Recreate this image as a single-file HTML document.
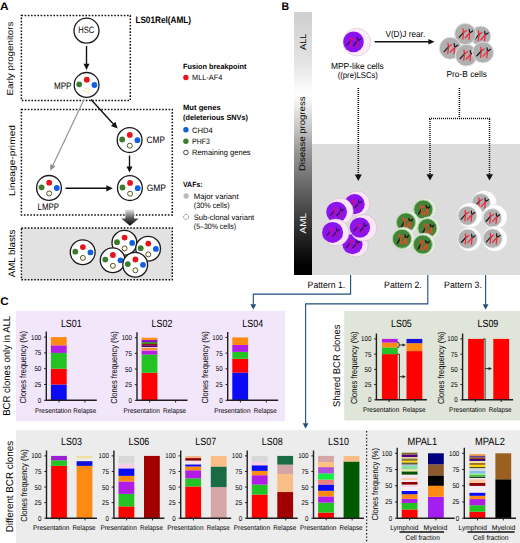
<!DOCTYPE html>
<html><head><meta charset="utf-8"><title>Figure</title>
<style>html,body{margin:0;padding:0;background:#fff;overflow:hidden}svg{display:block}text{font-family:"Liberation Sans",sans-serif;text-rendering:geometricPrecision}</style>
</head><body>
<svg width="520" height="543" viewBox="0 0 520 543">
<defs><linearGradient id="gbar" x1="0" y1="0" x2="0" y2="1"><stop offset="0" stop-color="#cecece"/><stop offset="0.183" stop-color="#e3e3e3"/><stop offset="0.315" stop-color="#ffffff"/><stop offset="0.449" stop-color="#c2c2c2"/><stop offset="0.525" stop-color="#989898"/><stop offset="0.715" stop-color="#555555"/><stop offset="0.867" stop-color="#202020"/><stop offset="0.965" stop-color="#000000"/></linearGradient><linearGradient id="garr" x1="0" y1="0" x2="0" y2="1"><stop offset="0" stop-color="#e8e8e8"/><stop offset="0.55" stop-color="#555"/><stop offset="1" stop-color="#000"/></linearGradient></defs>
<text x="0.00" y="9.60" font-size="11" font-weight="bold" textLength="8.60" lengthAdjust="spacingAndGlyphs">A</text>
<rect x="21.4" y="15.4" width="108.9" height="85.0" fill="none" stroke="#111" stroke-width="1.5" stroke-dasharray="1.6 1.6" stroke-linecap="butt"/>
<rect x="21.4" y="109.4" width="150.9" height="105.5" fill="none" stroke="#111" stroke-width="1.5" stroke-dasharray="1.6 1.6" stroke-linecap="butt"/>
<rect x="21.4" y="228.0" width="150.9" height="51.8" fill="#e2e2e2" stroke="#111" stroke-width="1.5" stroke-dasharray="1.6 1.6" stroke-linecap="butt"/>
<text x="13.05" y="58.60" font-size="8.7" text-anchor="middle" transform="rotate(-90 13.05 58.60)" textLength="74.00" lengthAdjust="spacingAndGlyphs">Early progenitors</text>
<text x="15.35" y="160.50" font-size="8.7" text-anchor="middle" transform="rotate(-90 15.35 160.50)" textLength="71.00" lengthAdjust="spacingAndGlyphs">Lineage-primed</text>
<text x="14.74" y="253.40" font-size="9.4" text-anchor="middle" transform="rotate(-90 14.74 253.40)" textLength="47.50" lengthAdjust="spacingAndGlyphs">AML blasts</text>
<circle cx="86.5" cy="30.7" r="12.5" fill="#fff" stroke="#1a1a1a" stroke-width="1.3"/>
<text x="86.30" y="33.40" font-size="9.3" text-anchor="middle" textLength="16.00" lengthAdjust="spacingAndGlyphs">HSC</text>
<line x1="86.50" y1="46.00" x2="86.50" y2="64.30" stroke="#111" stroke-width="1.4"/>
<polygon points="86.50,70.00 83.50,63.80 89.50,63.80" fill="#111"/>
<circle cx="86.6" cy="84.9" r="12.4" fill="#fff" stroke="#1a1a1a" stroke-width="1.3"/>
<circle cx="86.80" cy="79.70" r="2.9" fill="#e8141c"/>
<circle cx="79.20" cy="84.30" r="2.9" fill="#3d7a2c"/>
<circle cx="94.40" cy="85.00" r="2.9" fill="#1060e0"/>
<circle cx="86.80" cy="90.70" r="2.5" fill="#fffbe8" stroke="#e8d890" stroke-width="0.8" stroke-dasharray="1 0.8"/>
<text x="71.50" y="89.20" font-size="9.3" text-anchor="end" textLength="17.60" lengthAdjust="spacingAndGlyphs">MPP</text>
<line x1="84.00" y1="99.50" x2="52.64" y2="165.65" stroke="#8c8c8c" stroke-width="1.1"/>
<polygon points="50.20,170.80 50.33,164.00 55.39,166.40" fill="#8c8c8c"/>
<line x1="91.00" y1="99.50" x2="113.55" y2="124.17" stroke="#111" stroke-width="1.4"/>
<polygon points="117.60,128.60 110.93,125.89 115.50,121.71" fill="#111"/>
<circle cx="129.6" cy="140.1" r="12.4" fill="#fff" stroke="#1a1a1a" stroke-width="1.3"/>
<circle cx="129.80" cy="134.90" r="2.9" fill="#e8141c"/>
<circle cx="122.20" cy="139.50" r="2.9" fill="#3d7a2c"/>
<circle cx="137.40" cy="140.20" r="2.9" fill="#1060e0"/>
<circle cx="129.80" cy="145.70" r="2.5" fill="#fffce6" stroke="#4a4420" stroke-width="0.9"/>
<text x="146.60" y="143.40" font-size="9.3" textLength="18.30" lengthAdjust="spacingAndGlyphs">CMP</text>
<line x1="129.50" y1="155.50" x2="129.50" y2="166.90" stroke="#111" stroke-width="1.4"/>
<polygon points="129.50,172.60 126.50,166.40 132.50,166.40" fill="#111"/>
<circle cx="49" cy="187.9" r="12.4" fill="#fff" stroke="#1a1a1a" stroke-width="1.3"/>
<circle cx="49.20" cy="182.70" r="2.9" fill="#e8141c"/>
<circle cx="41.60" cy="187.30" r="2.9" fill="#3d7a2c"/>
<circle cx="56.80" cy="188.00" r="2.9" fill="#1060e0"/>
<circle cx="49.20" cy="193.50" r="2.5" fill="#fffce6" stroke="#4a4420" stroke-width="0.9"/>
<text x="48.30" y="210.20" font-size="9.3" text-anchor="middle" textLength="21.40" lengthAdjust="spacingAndGlyphs">LMPP</text>
<line x1="65.50" y1="188.30" x2="106.80" y2="188.30" stroke="#111" stroke-width="1.4"/>
<polygon points="112.80,188.30 106.30,191.40 106.30,185.20" fill="#111"/>
<circle cx="129.9" cy="188.1" r="12.4" fill="#fff" stroke="#1a1a1a" stroke-width="1.3"/>
<circle cx="130.10" cy="182.90" r="2.9" fill="#e8141c"/>
<circle cx="122.50" cy="187.50" r="2.9" fill="#3d7a2c"/>
<circle cx="137.70" cy="188.20" r="2.9" fill="#1060e0"/>
<circle cx="130.10" cy="193.70" r="2.5" fill="#fffce6" stroke="#4a4420" stroke-width="0.9"/>
<text x="146.70" y="191.40" font-size="9.3" textLength="19.30" lengthAdjust="spacingAndGlyphs">GMP</text>
<path d="M125.4,209.4 H134.1 V218.4 H138.8 L130,225.8 L121.2,218.4 H125.4 Z" fill="url(#garr)"/>
<circle cx="82.7" cy="252.3" r="12.4" fill="#fff" stroke="#1a1a1a" stroke-width="1.3"/>
<circle cx="82.90" cy="247.10" r="2.9" fill="#e8141c"/>
<circle cx="75.30" cy="251.70" r="2.9" fill="#3d7a2c"/>
<circle cx="90.50" cy="252.40" r="2.9" fill="#1060e0"/>
<circle cx="82.90" cy="257.90" r="2.5" fill="#fffce6" stroke="#4a4420" stroke-width="0.9"/>
<circle cx="124.4" cy="242.8" r="12.4" fill="#fff" stroke="#1a1a1a" stroke-width="1.3"/>
<circle cx="124.60" cy="237.60" r="2.9" fill="#e8141c"/>
<circle cx="117.00" cy="242.20" r="2.9" fill="#3d7a2c"/>
<circle cx="132.20" cy="242.90" r="2.9" fill="#1060e0"/>
<circle cx="124.60" cy="248.40" r="2.5" fill="#fffce6" stroke="#4a4420" stroke-width="0.9"/>
<circle cx="148.1" cy="248.8" r="12.4" fill="#fff" stroke="#1a1a1a" stroke-width="1.3"/>
<circle cx="148.30" cy="243.60" r="2.9" fill="#e8141c"/>
<circle cx="140.70" cy="248.20" r="2.9" fill="#3d7a2c"/>
<circle cx="155.90" cy="248.90" r="2.9" fill="#1060e0"/>
<circle cx="148.30" cy="254.40" r="2.5" fill="#fffce6" stroke="#4a4420" stroke-width="0.9"/>
<circle cx="112.7" cy="260.2" r="12.4" fill="#fff" stroke="#1a1a1a" stroke-width="1.3"/>
<circle cx="112.90" cy="255.00" r="2.9" fill="#e8141c"/>
<circle cx="105.30" cy="259.60" r="2.9" fill="#3d7a2c"/>
<circle cx="120.50" cy="260.30" r="2.9" fill="#1060e0"/>
<circle cx="112.90" cy="265.80" r="2.5" fill="#fffce6" stroke="#4a4420" stroke-width="0.9"/>
<circle cx="135.2" cy="264.7" r="12.4" fill="#fff" stroke="#1a1a1a" stroke-width="1.3"/>
<circle cx="135.40" cy="259.50" r="2.9" fill="#e8141c"/>
<circle cx="127.80" cy="264.10" r="2.9" fill="#3d7a2c"/>
<circle cx="143.00" cy="264.80" r="2.9" fill="#1060e0"/>
<circle cx="135.40" cy="270.30" r="2.5" fill="#fffce6" stroke="#4a4420" stroke-width="0.9"/>
<text x="135.40" y="23.40" font-size="9.3" font-weight="bold" textLength="55.60" lengthAdjust="spacingAndGlyphs">LS01Rel(AML)</text>
<text x="183.00" y="69.10" font-size="7.5" font-weight="bold" textLength="63.40" lengthAdjust="spacingAndGlyphs">Fusion breakpoint</text>
<circle cx="185.9" cy="77.5" r="2.7" fill="#e8141c"/>
<text x="192.00" y="80.30" font-size="7.8" textLength="30.40" lengthAdjust="spacingAndGlyphs">MLL-AF4</text>
<text x="183.00" y="110.20" font-size="7.6" font-weight="bold" textLength="37.80" lengthAdjust="spacingAndGlyphs">Mut genes</text>
<text x="183.00" y="119.50" font-size="7.5" font-weight="bold" textLength="65.00" lengthAdjust="spacingAndGlyphs">(deleterious SNVs)</text>
<circle cx="185.9" cy="129.8" r="2.7" fill="#1060e0"/>
<text x="192.00" y="132.60" font-size="7.8" textLength="20.60" lengthAdjust="spacingAndGlyphs">CHD4</text>
<circle cx="185.9" cy="141.2" r="2.7" fill="#3d7a2c"/>
<text x="192.00" y="144.00" font-size="7.8" textLength="17.80" lengthAdjust="spacingAndGlyphs">PHF3</text>
<circle cx="185.9" cy="152.5" r="2.3" fill="#fff" stroke="#333" stroke-width="0.9"/>
<text x="192.00" y="155.30" font-size="7.8" textLength="58.60" lengthAdjust="spacingAndGlyphs">Remaining genes</text>
<text x="183.00" y="186.60" font-size="7.5" font-weight="bold" textLength="19.60" lengthAdjust="spacingAndGlyphs">VAFs:</text>
<circle cx="186.1" cy="196" r="2.7" fill="#bdbdbd"/>
<text x="193.80" y="199.00" font-size="7.8" textLength="44.80" lengthAdjust="spacingAndGlyphs">Major variant</text>
<text x="193.80" y="207.50" font-size="7.8" textLength="35.80" lengthAdjust="spacingAndGlyphs">(30% cells)</text>
<circle cx="186.1" cy="217" r="2.5" fill="#fff" stroke="#444" stroke-width="0.8" stroke-dasharray="0.7 0.6"/>
<text x="193.80" y="220.00" font-size="7.8" textLength="60.40" lengthAdjust="spacingAndGlyphs">Sub-clonal variant</text>
<text x="193.80" y="228.60" font-size="7.8" textLength="42.40" lengthAdjust="spacingAndGlyphs">(5–30% cells)</text>
<text x="281.50" y="9.70" font-size="11" font-weight="bold" textLength="7.60" lengthAdjust="spacingAndGlyphs">B</text>
<rect x="294" y="12" width="18" height="263" fill="url(#gbar)"/>
<rect x="312" y="144" width="208" height="131" fill="#dcdcdd"/>
<text x="305.52" y="41.80" font-size="8.6" text-anchor="middle" transform="rotate(-90 305.52 41.80)" textLength="16.40" lengthAdjust="spacingAndGlyphs">ALL</text>
<text x="304.92" y="133.80" font-size="8.6" text-anchor="middle" transform="rotate(-90 304.92 133.80)" textLength="74.60" lengthAdjust="spacingAndGlyphs">Disease progress</text>
<text x="306.32" y="223.20" font-size="8.6" text-anchor="middle" transform="rotate(-90 306.32 223.20)" fill="#fff" textLength="20.50" lengthAdjust="spacingAndGlyphs">AML</text>
<circle cx="356.9" cy="42.1" r="13.8" fill="#fcecf8" stroke="#cfc0cc" stroke-width="0.6"/>
<circle cx="353.5" cy="41.9" r="10.3" fill="#8a12ee"/>
<g transform="translate(351.10,40.60) rotate(25) scale(1.0)" fill="none" stroke-width="1.35" stroke-linecap="round" stroke-linejoin="round"><path d="M-1.8,-3.0 L0,0 L1.8,-3.0" stroke="#e0107a"/><path d="M0,0 L-1.9,5.8" stroke="#30106a"/><path d="M0,0 L1.9,5.8" stroke="#e0107a"/></g>
<g transform="translate(357.70,41.00) rotate(25) scale(1.0)" fill="none" stroke-width="1.35" stroke-linecap="round" stroke-linejoin="round"><path d="M-1.8,-3.0 L0,0 L1.8,-3.0" stroke="#30106a"/><path d="M0,0 L-1.9,5.8" stroke="#30106a"/><path d="M0,0 L1.9,5.8" stroke="#c01078"/></g>
<text x="357.40" y="68.50" font-size="8.6" text-anchor="middle" textLength="52.80" lengthAdjust="spacingAndGlyphs">MPP-like cells</text>
<text x="357.80" y="77.60" font-size="8.6" text-anchor="middle" textLength="40.20" lengthAdjust="spacingAndGlyphs">((pre)LSCs)</text>
<line x1="374.60" y1="41.80" x2="428.90" y2="41.80" stroke="#111" stroke-width="1.4"/>
<polygon points="434.60,41.80 428.40,44.60 428.40,39.00" fill="#111"/>
<text x="385.40" y="36.80" font-size="8.9" textLength="39.80" lengthAdjust="spacingAndGlyphs">V(D)J rear.</text>
<circle cx="480.8" cy="36" r="10" fill="#b0b0b0" stroke="#e6e6e6" stroke-width="0.9"/>
<g transform="translate(478.96,34.62) rotate(24) scale(1.05)" fill="none" stroke-width="1.19" stroke-linecap="round" stroke-linejoin="round"><path d="M-1.8,-3.0 L0,0 L1.8,-3.0" stroke="#ee2a3a"/><path d="M0,0 L-1.9,5.8" stroke="#1a1a1a"/><path d="M0,0 L1.9,5.8" stroke="#ee2a3a"/></g>
<g transform="translate(485.16,35.02) rotate(24) scale(1.05)" fill="none" stroke-width="1.19" stroke-linecap="round" stroke-linejoin="round"><path d="M-1.8,-3.0 L0,0 L1.8,-3.0" stroke="#1a1a1a"/><path d="M0,0 L-1.9,5.8" stroke="#ee2a3a"/><path d="M0,0 L1.9,5.8" stroke="#ee2a3a"/></g>
<circle cx="465.3" cy="34" r="10.7" fill="#b0b0b0" stroke="#e6e6e6" stroke-width="0.9"/>
<g transform="translate(463.46,32.62) rotate(24) scale(1.05)" fill="none" stroke-width="1.19" stroke-linecap="round" stroke-linejoin="round"><path d="M-1.8,-3.0 L0,0 L1.8,-3.0" stroke="#ee2a3a"/><path d="M0,0 L-1.9,5.8" stroke="#1a1a1a"/><path d="M0,0 L1.9,5.8" stroke="#ee2a3a"/></g>
<g transform="translate(469.66,33.02) rotate(24) scale(1.05)" fill="none" stroke-width="1.19" stroke-linecap="round" stroke-linejoin="round"><path d="M-1.8,-3.0 L0,0 L1.8,-3.0" stroke="#1a1a1a"/><path d="M0,0 L-1.9,5.8" stroke="#ee2a3a"/><path d="M0,0 L1.9,5.8" stroke="#ee2a3a"/></g>
<circle cx="450.3" cy="48.3" r="11" fill="#b0b0b0" stroke="#e6e6e6" stroke-width="0.9"/>
<g transform="translate(448.46,46.92) rotate(24) scale(1.05)" fill="none" stroke-width="1.19" stroke-linecap="round" stroke-linejoin="round"><path d="M-1.8,-3.0 L0,0 L1.8,-3.0" stroke="#ee2a3a"/><path d="M0,0 L-1.9,5.8" stroke="#1a1a1a"/><path d="M0,0 L1.9,5.8" stroke="#ee2a3a"/></g>
<g transform="translate(454.66,47.32) rotate(24) scale(1.05)" fill="none" stroke-width="1.19" stroke-linecap="round" stroke-linejoin="round"><path d="M-1.8,-3.0 L0,0 L1.8,-3.0" stroke="#1a1a1a"/><path d="M0,0 L-1.9,5.8" stroke="#ee2a3a"/><path d="M0,0 L1.9,5.8" stroke="#ee2a3a"/></g>
<circle cx="466.3" cy="55.2" r="10.9" fill="#b0b0b0" stroke="#e6e6e6" stroke-width="0.9"/>
<g transform="translate(464.46,53.82) rotate(24) scale(1.05)" fill="none" stroke-width="1.19" stroke-linecap="round" stroke-linejoin="round"><path d="M-1.8,-3.0 L0,0 L1.8,-3.0" stroke="#ee2a3a"/><path d="M0,0 L-1.9,5.8" stroke="#1a1a1a"/><path d="M0,0 L1.9,5.8" stroke="#ee2a3a"/></g>
<g transform="translate(470.66,54.22) rotate(24) scale(1.05)" fill="none" stroke-width="1.19" stroke-linecap="round" stroke-linejoin="round"><path d="M-1.8,-3.0 L0,0 L1.8,-3.0" stroke="#1a1a1a"/><path d="M0,0 L-1.9,5.8" stroke="#ee2a3a"/><path d="M0,0 L1.9,5.8" stroke="#ee2a3a"/></g>
<circle cx="483.1" cy="52.4" r="10.6" fill="#b0b0b0" stroke="#e6e6e6" stroke-width="0.9"/>
<g transform="translate(481.26,51.02) rotate(24) scale(1.05)" fill="none" stroke-width="1.19" stroke-linecap="round" stroke-linejoin="round"><path d="M-1.8,-3.0 L0,0 L1.8,-3.0" stroke="#ee2a3a"/><path d="M0,0 L-1.9,5.8" stroke="#1a1a1a"/><path d="M0,0 L1.9,5.8" stroke="#ee2a3a"/></g>
<g transform="translate(487.46,51.42) rotate(24) scale(1.05)" fill="none" stroke-width="1.19" stroke-linecap="round" stroke-linejoin="round"><path d="M-1.8,-3.0 L0,0 L1.8,-3.0" stroke="#1a1a1a"/><path d="M0,0 L-1.9,5.8" stroke="#ee2a3a"/><path d="M0,0 L1.9,5.8" stroke="#ee2a3a"/></g>
<text x="466.70" y="77.30" font-size="8.6" text-anchor="middle" textLength="40.50" lengthAdjust="spacingAndGlyphs">Pro-B cells</text>
<line x1="358.30" y1="88.00" x2="358.30" y2="176.00" stroke="#111" stroke-width="1.6" stroke-dasharray="1.1 0.9"/>
<polygon points="358.3,181.0 354.8,174.6 361.8,174.6" fill="#111"/>
<line x1="459.40" y1="88.00" x2="459.40" y2="118.00" stroke="#111" stroke-width="1.5" stroke-dasharray="1.1 0.9"/>
<line x1="429.00" y1="118.40" x2="491.00" y2="118.40" stroke="#111" stroke-width="1.5" stroke-dasharray="1.1 0.9"/>
<line x1="430.00" y1="119.00" x2="430.00" y2="175.00" stroke="#111" stroke-width="1.5" stroke-dasharray="1.1 0.9"/>
<line x1="489.50" y1="119.00" x2="489.50" y2="175.00" stroke="#111" stroke-width="1.5" stroke-dasharray="1.1 0.9"/>
<polygon points="430.0,180.6 426.5,174.2 433.5,174.2" fill="#111"/>
<polygon points="489.5,180.6 486.0,174.2 493.0,174.2" fill="#111"/>
<circle cx="357.3" cy="203.6" r="12.6" fill="#fbe6f6" stroke="#cdb8c8" stroke-width="0.6"/>
<circle cx="354.6" cy="204.2" r="10.1" fill="#8c14ee"/>
<g transform="translate(352.64,202.98) rotate(25) scale(0.95)" fill="none" stroke-width="1.32" stroke-linecap="round" stroke-linejoin="round"><path d="M-1.8,-3.0 L0,0 L1.8,-3.0" stroke="#d8107c"/><path d="M0,0 L-1.9,5.8" stroke="#3a1070"/><path d="M0,0 L1.9,5.8" stroke="#c8107a"/></g>
<g transform="translate(358.84,203.38) rotate(25) scale(0.95)" fill="none" stroke-width="1.32" stroke-linecap="round" stroke-linejoin="round"><path d="M-1.8,-3.0 L0,0 L1.8,-3.0" stroke="#2e1068"/><path d="M0,0 L-1.9,5.8" stroke="#2e1068"/><path d="M0,0 L1.9,5.8" stroke="#c0107a"/></g>
<circle cx="355.6" cy="244.5" r="12.6" fill="#fbe6f6" stroke="#cdb8c8" stroke-width="0.6"/>
<circle cx="352.5" cy="244.2" r="10.1" fill="#8c14ee"/>
<g transform="translate(350.54,242.98) rotate(25) scale(0.95)" fill="none" stroke-width="1.32" stroke-linecap="round" stroke-linejoin="round"><path d="M-1.8,-3.0 L0,0 L1.8,-3.0" stroke="#d8107c"/><path d="M0,0 L-1.9,5.8" stroke="#3a1070"/><path d="M0,0 L1.9,5.8" stroke="#c8107a"/></g>
<g transform="translate(356.74,243.38) rotate(25) scale(0.95)" fill="none" stroke-width="1.32" stroke-linecap="round" stroke-linejoin="round"><path d="M-1.8,-3.0 L0,0 L1.8,-3.0" stroke="#2e1068"/><path d="M0,0 L-1.9,5.8" stroke="#2e1068"/><path d="M0,0 L1.9,5.8" stroke="#c0107a"/></g>
<circle cx="340.0" cy="211.3" r="13.2" fill="#fbe6f6" stroke="#cdb8c8" stroke-width="0.6"/>
<circle cx="336.6" cy="212.1" r="10.4" fill="#8c14ee"/>
<g transform="translate(334.64,210.88) rotate(25) scale(0.95)" fill="none" stroke-width="1.32" stroke-linecap="round" stroke-linejoin="round"><path d="M-1.8,-3.0 L0,0 L1.8,-3.0" stroke="#d8107c"/><path d="M0,0 L-1.9,5.8" stroke="#3a1070"/><path d="M0,0 L1.9,5.8" stroke="#c8107a"/></g>
<g transform="translate(340.84,211.28) rotate(25) scale(0.95)" fill="none" stroke-width="1.32" stroke-linecap="round" stroke-linejoin="round"><path d="M-1.8,-3.0 L0,0 L1.8,-3.0" stroke="#2e1068"/><path d="M0,0 L-1.9,5.8" stroke="#2e1068"/><path d="M0,0 L1.9,5.8" stroke="#c0107a"/></g>
<circle cx="335.7" cy="232.4" r="13.4" fill="#fbe6f6" stroke="#cdb8c8" stroke-width="0.6"/>
<circle cx="332.6" cy="232.4" r="10.5" fill="#8c14ee"/>
<g transform="translate(330.64,231.18) rotate(25) scale(0.95)" fill="none" stroke-width="1.32" stroke-linecap="round" stroke-linejoin="round"><path d="M-1.8,-3.0 L0,0 L1.8,-3.0" stroke="#d8107c"/><path d="M0,0 L-1.9,5.8" stroke="#3a1070"/><path d="M0,0 L1.9,5.8" stroke="#c8107a"/></g>
<g transform="translate(336.84,231.58) rotate(25) scale(0.95)" fill="none" stroke-width="1.32" stroke-linecap="round" stroke-linejoin="round"><path d="M-1.8,-3.0 L0,0 L1.8,-3.0" stroke="#2e1068"/><path d="M0,0 L-1.9,5.8" stroke="#2e1068"/><path d="M0,0 L1.9,5.8" stroke="#c0107a"/></g>
<circle cx="363.5" cy="227.8" r="13.4" fill="#fbe6f6" stroke="#cdb8c8" stroke-width="0.6"/>
<circle cx="359.9" cy="227.6" r="10.2" fill="#8c14ee"/>
<g transform="translate(357.94,226.38) rotate(25) scale(0.95)" fill="none" stroke-width="1.32" stroke-linecap="round" stroke-linejoin="round"><path d="M-1.8,-3.0 L0,0 L1.8,-3.0" stroke="#d8107c"/><path d="M0,0 L-1.9,5.8" stroke="#3a1070"/><path d="M0,0 L1.9,5.8" stroke="#c8107a"/></g>
<g transform="translate(364.14,226.78) rotate(25) scale(0.95)" fill="none" stroke-width="1.32" stroke-linecap="round" stroke-linejoin="round"><path d="M-1.8,-3.0 L0,0 L1.8,-3.0" stroke="#2e1068"/><path d="M0,0 L-1.9,5.8" stroke="#2e1068"/><path d="M0,0 L1.9,5.8" stroke="#c0107a"/></g>
<circle cx="424.7" cy="209.4" r="11.4" fill="#e8ede6" stroke="#c4cac0" stroke-width="0.5"/>
<circle cx="423.3" cy="209.5" r="9.6" fill="#44843a" stroke="#a8dc98" stroke-width="1.0"/>
<g transform="translate(421.70,208.70) rotate(12) scale(1.0)" fill="none" stroke-width="1.50" stroke-linecap="round" stroke-linejoin="round"><path d="M-1.8,-3.0 L0,0 L1.8,-3.0" stroke="#e84a28"/><path d="M0,0 L-1.9,5.8" stroke="#1a1a1a"/><path d="M0,0 L1.9,5.8" stroke="#e84a28"/></g>
<g transform="translate(427.30,209.10) rotate(12) scale(1.0)" fill="none" stroke-width="1.50" stroke-linecap="round" stroke-linejoin="round"><path d="M-1.8,-3.0 L0,0 L1.8,-3.0" stroke="#1a1a1a"/><path d="M0,0 L-1.9,5.8" stroke="#e84a28"/><path d="M0,0 L1.9,5.8" stroke="#e84a28"/></g>
<circle cx="407.4" cy="222.3" r="11.4" fill="#e8ede6" stroke="#c4cac0" stroke-width="0.5"/>
<circle cx="406.0" cy="222.4" r="9.6" fill="#44843a" stroke="#a8dc98" stroke-width="1.0"/>
<g transform="translate(404.40,221.60) rotate(12) scale(1.0)" fill="none" stroke-width="1.50" stroke-linecap="round" stroke-linejoin="round"><path d="M-1.8,-3.0 L0,0 L1.8,-3.0" stroke="#e84a28"/><path d="M0,0 L-1.9,5.8" stroke="#1a1a1a"/><path d="M0,0 L1.9,5.8" stroke="#e84a28"/></g>
<g transform="translate(410.00,222.00) rotate(12) scale(1.0)" fill="none" stroke-width="1.50" stroke-linecap="round" stroke-linejoin="round"><path d="M-1.8,-3.0 L0,0 L1.8,-3.0" stroke="#1a1a1a"/><path d="M0,0 L-1.9,5.8" stroke="#e84a28"/><path d="M0,0 L1.9,5.8" stroke="#e84a28"/></g>
<circle cx="428.79999999999995" cy="228.1" r="11.4" fill="#e8ede6" stroke="#c4cac0" stroke-width="0.5"/>
<circle cx="427.4" cy="228.2" r="9.6" fill="#44843a" stroke="#a8dc98" stroke-width="1.0"/>
<g transform="translate(425.80,227.40) rotate(12) scale(1.0)" fill="none" stroke-width="1.50" stroke-linecap="round" stroke-linejoin="round"><path d="M-1.8,-3.0 L0,0 L1.8,-3.0" stroke="#e84a28"/><path d="M0,0 L-1.9,5.8" stroke="#1a1a1a"/><path d="M0,0 L1.9,5.8" stroke="#e84a28"/></g>
<g transform="translate(431.40,227.80) rotate(12) scale(1.0)" fill="none" stroke-width="1.50" stroke-linecap="round" stroke-linejoin="round"><path d="M-1.8,-3.0 L0,0 L1.8,-3.0" stroke="#1a1a1a"/><path d="M0,0 L-1.9,5.8" stroke="#e84a28"/><path d="M0,0 L1.9,5.8" stroke="#e84a28"/></g>
<circle cx="403.4" cy="238.70000000000002" r="11.4" fill="#e8ede6" stroke="#c4cac0" stroke-width="0.5"/>
<circle cx="402.0" cy="238.8" r="9.6" fill="#44843a" stroke="#a8dc98" stroke-width="1.0"/>
<g transform="translate(400.40,238.00) rotate(12) scale(1.0)" fill="none" stroke-width="1.50" stroke-linecap="round" stroke-linejoin="round"><path d="M-1.8,-3.0 L0,0 L1.8,-3.0" stroke="#e84a28"/><path d="M0,0 L-1.9,5.8" stroke="#1a1a1a"/><path d="M0,0 L1.9,5.8" stroke="#e84a28"/></g>
<g transform="translate(406.00,238.40) rotate(12) scale(1.0)" fill="none" stroke-width="1.50" stroke-linecap="round" stroke-linejoin="round"><path d="M-1.8,-3.0 L0,0 L1.8,-3.0" stroke="#1a1a1a"/><path d="M0,0 L-1.9,5.8" stroke="#e84a28"/><path d="M0,0 L1.9,5.8" stroke="#e84a28"/></g>
<circle cx="424.2" cy="244.4" r="11.4" fill="#e8ede6" stroke="#c4cac0" stroke-width="0.5"/>
<circle cx="422.8" cy="244.5" r="9.6" fill="#44843a" stroke="#a8dc98" stroke-width="1.0"/>
<g transform="translate(421.20,243.70) rotate(12) scale(1.0)" fill="none" stroke-width="1.50" stroke-linecap="round" stroke-linejoin="round"><path d="M-1.8,-3.0 L0,0 L1.8,-3.0" stroke="#e84a28"/><path d="M0,0 L-1.9,5.8" stroke="#1a1a1a"/><path d="M0,0 L1.9,5.8" stroke="#e84a28"/></g>
<g transform="translate(426.80,244.10) rotate(12) scale(1.0)" fill="none" stroke-width="1.50" stroke-linecap="round" stroke-linejoin="round"><path d="M-1.8,-3.0 L0,0 L1.8,-3.0" stroke="#1a1a1a"/><path d="M0,0 L-1.9,5.8" stroke="#e84a28"/><path d="M0,0 L1.9,5.8" stroke="#e84a28"/></g>
<circle cx="484.2" cy="203" r="12.6" fill="#ffffff" stroke="#d0d0d0" stroke-width="0.5"/>
<circle cx="481.1" cy="202.8" r="9.3" fill="#b0b0b0" stroke="#e6e6e6" stroke-width="0.9"/>
<g transform="translate(479.26,201.42) rotate(24) scale(1.05)" fill="none" stroke-width="1.19" stroke-linecap="round" stroke-linejoin="round"><path d="M-1.8,-3.0 L0,0 L1.8,-3.0" stroke="#ee2a3a"/><path d="M0,0 L-1.9,5.8" stroke="#1a1a1a"/><path d="M0,0 L1.9,5.8" stroke="#ee2a3a"/></g>
<g transform="translate(485.46,201.82) rotate(24) scale(1.05)" fill="none" stroke-width="1.19" stroke-linecap="round" stroke-linejoin="round"><path d="M-1.8,-3.0 L0,0 L1.8,-3.0" stroke="#1a1a1a"/><path d="M0,0 L-1.9,5.8" stroke="#ee2a3a"/><path d="M0,0 L1.9,5.8" stroke="#ee2a3a"/></g>
<circle cx="470.0" cy="215.3" r="12.6" fill="#ffffff" stroke="#d0d0d0" stroke-width="0.5"/>
<circle cx="467.4" cy="215.7" r="9.5" fill="#b0b0b0" stroke="#e6e6e6" stroke-width="0.9"/>
<g transform="translate(465.56,214.32) rotate(24) scale(1.05)" fill="none" stroke-width="1.19" stroke-linecap="round" stroke-linejoin="round"><path d="M-1.8,-3.0 L0,0 L1.8,-3.0" stroke="#ee2a3a"/><path d="M0,0 L-1.9,5.8" stroke="#1a1a1a"/><path d="M0,0 L1.9,5.8" stroke="#ee2a3a"/></g>
<g transform="translate(471.76,214.72) rotate(24) scale(1.05)" fill="none" stroke-width="1.19" stroke-linecap="round" stroke-linejoin="round"><path d="M-1.8,-3.0 L0,0 L1.8,-3.0" stroke="#1a1a1a"/><path d="M0,0 L-1.9,5.8" stroke="#ee2a3a"/><path d="M0,0 L1.9,5.8" stroke="#ee2a3a"/></g>
<circle cx="494.8" cy="217" r="12.5" fill="#ffffff" stroke="#d0d0d0" stroke-width="0.5"/>
<circle cx="492.3" cy="217.9" r="9.3" fill="#b0b0b0" stroke="#e6e6e6" stroke-width="0.9"/>
<g transform="translate(490.46,216.52) rotate(24) scale(1.05)" fill="none" stroke-width="1.19" stroke-linecap="round" stroke-linejoin="round"><path d="M-1.8,-3.0 L0,0 L1.8,-3.0" stroke="#ee2a3a"/><path d="M0,0 L-1.9,5.8" stroke="#1a1a1a"/><path d="M0,0 L1.9,5.8" stroke="#ee2a3a"/></g>
<g transform="translate(496.66,216.92) rotate(24) scale(1.05)" fill="none" stroke-width="1.19" stroke-linecap="round" stroke-linejoin="round"><path d="M-1.8,-3.0 L0,0 L1.8,-3.0" stroke="#1a1a1a"/><path d="M0,0 L-1.9,5.8" stroke="#ee2a3a"/><path d="M0,0 L1.9,5.8" stroke="#ee2a3a"/></g>
<circle cx="469.4" cy="239.2" r="12.1" fill="#ffffff" stroke="#d0d0d0" stroke-width="0.5"/>
<circle cx="467.7" cy="238.9" r="9.8" fill="#b0b0b0" stroke="#e6e6e6" stroke-width="0.9"/>
<g transform="translate(465.86,237.52) rotate(24) scale(1.05)" fill="none" stroke-width="1.19" stroke-linecap="round" stroke-linejoin="round"><path d="M-1.8,-3.0 L0,0 L1.8,-3.0" stroke="#ee2a3a"/><path d="M0,0 L-1.9,5.8" stroke="#1a1a1a"/><path d="M0,0 L1.9,5.8" stroke="#ee2a3a"/></g>
<g transform="translate(472.06,237.92) rotate(24) scale(1.05)" fill="none" stroke-width="1.19" stroke-linecap="round" stroke-linejoin="round"><path d="M-1.8,-3.0 L0,0 L1.8,-3.0" stroke="#1a1a1a"/><path d="M0,0 L-1.9,5.8" stroke="#ee2a3a"/><path d="M0,0 L1.9,5.8" stroke="#ee2a3a"/></g>
<circle cx="494.8" cy="238.9" r="12.6" fill="#ffffff" stroke="#d0d0d0" stroke-width="0.5"/>
<circle cx="492.6" cy="238.5" r="9.7" fill="#b0b0b0" stroke="#e6e6e6" stroke-width="0.9"/>
<g transform="translate(490.76,237.12) rotate(24) scale(1.05)" fill="none" stroke-width="1.19" stroke-linecap="round" stroke-linejoin="round"><path d="M-1.8,-3.0 L0,0 L1.8,-3.0" stroke="#ee2a3a"/><path d="M0,0 L-1.9,5.8" stroke="#1a1a1a"/><path d="M0,0 L1.9,5.8" stroke="#ee2a3a"/></g>
<g transform="translate(496.96,237.52) rotate(24) scale(1.05)" fill="none" stroke-width="1.19" stroke-linecap="round" stroke-linejoin="round"><path d="M-1.8,-3.0 L0,0 L1.8,-3.0" stroke="#1a1a1a"/><path d="M0,0 L-1.9,5.8" stroke="#ee2a3a"/><path d="M0,0 L1.9,5.8" stroke="#ee2a3a"/></g>
<text x="345.20" y="288.20" font-size="9.2" text-anchor="end" textLength="37.60" lengthAdjust="spacingAndGlyphs">Pattern 1.</text>
<text x="421.80" y="288.40" font-size="9.2" text-anchor="end" textLength="37.70" lengthAdjust="spacingAndGlyphs">Pattern 2.</text>
<text x="481.90" y="288.40" font-size="9.2" text-anchor="end" textLength="37.80" lengthAdjust="spacingAndGlyphs">Pattern 3.</text>
<polyline points="350.6,275 350.6,294.1 253.3,294.1 253.3,304.5" fill="none" stroke="#1f4e79" stroke-width="1.1"/>
<polygon points="253.3,309.6 250.4,304.2 256.2,304.2" fill="#1f4e79"/>
<polyline points="427.8,275 427.8,303.9 305.6,303.9 305.6,423.5" fill="none" stroke="#1f4e79" stroke-width="1.1"/>
<polygon points="305.6,428.6 302.7,423.2 308.5,423.2" fill="#1f4e79"/>
<line x1="485.6" y1="275" x2="485.6" y2="304.5" stroke="#1f4e79" stroke-width="1.1"/>
<polygon points="485.6,309.6 482.7,304.2 488.5,304.2" fill="#1f4e79"/>
<text x="0.20" y="304.70" font-size="11" font-weight="bold" textLength="8.40" lengthAdjust="spacingAndGlyphs">C</text>
<rect x="16" y="310.8" width="269" height="110.4" fill="#f2e6fa"/>
<rect x="344.2" y="311.1" width="175.8" height="109.3" fill="#dfe5d8"/>
<rect x="16" y="430.2" width="504" height="112.8" fill="#ececec"/>
<line x1="366.60" y1="431.00" x2="366.60" y2="543.00" stroke="#231f20" stroke-width="1.3" stroke-dasharray="1.4 2"/>
<text x="10.10" y="365.80" font-size="10.0" text-anchor="middle" transform="rotate(-90 10.10 365.80)" textLength="100.00" lengthAdjust="spacingAndGlyphs">BCR clones only in ALL</text>
<text x="339.65" y="365.80" font-size="9.8" text-anchor="middle" transform="rotate(-90 339.65 365.80)" textLength="82.50" lengthAdjust="spacingAndGlyphs">Shared BCR clones</text>
<text x="13.00" y="486.60" font-size="10.0" text-anchor="middle" transform="rotate(-90 13.00 486.60)" textLength="91.50" lengthAdjust="spacingAndGlyphs">Different BCR clones</text>
<rect x="50.90" y="384.50" width="15.8" height="15.82" fill="#0a0af5"/>
<rect x="50.90" y="368.70" width="15.8" height="15.82" fill="#ff0000"/>
<rect x="50.90" y="352.90" width="15.8" height="15.82" fill="#22c322"/>
<rect x="50.90" y="345.32" width="15.8" height="7.60" fill="#b01ee6"/>
<rect x="50.90" y="337.10" width="15.8" height="8.24" fill="#ff8a12"/>
<path d="M46.30,331.60 V400.30 H96.80" fill="none" stroke="#231f20" stroke-width="1.4"/>
<line x1="44.10" y1="400.30" x2="46.30" y2="400.30" stroke="#231f20" stroke-width="1"/>
<text x="41.30" y="402.80" font-size="7.0" text-anchor="end" textLength="3.45" lengthAdjust="spacingAndGlyphs">0</text>
<line x1="44.10" y1="384.50" x2="46.30" y2="384.50" stroke="#231f20" stroke-width="1"/>
<text x="41.30" y="387.00" font-size="7.0" text-anchor="end" textLength="6.90" lengthAdjust="spacingAndGlyphs">25</text>
<line x1="44.10" y1="368.70" x2="46.30" y2="368.70" stroke="#231f20" stroke-width="1"/>
<text x="41.30" y="371.20" font-size="7.0" text-anchor="end" textLength="6.90" lengthAdjust="spacingAndGlyphs">50</text>
<line x1="44.10" y1="352.90" x2="46.30" y2="352.90" stroke="#231f20" stroke-width="1"/>
<text x="41.30" y="355.40" font-size="7.0" text-anchor="end" textLength="6.90" lengthAdjust="spacingAndGlyphs">75</text>
<line x1="44.10" y1="337.10" x2="46.30" y2="337.10" stroke="#231f20" stroke-width="1"/>
<text x="41.30" y="339.60" font-size="7.0" text-anchor="end" textLength="10.35" lengthAdjust="spacingAndGlyphs">100</text>
<line x1="59.00" y1="400.30" x2="59.00" y2="402.50" stroke="#231f20" stroke-width="1"/>
<line x1="84.90" y1="400.30" x2="84.90" y2="402.50" stroke="#231f20" stroke-width="1"/>
<text x="71.30" y="326.60" font-size="10.5" text-anchor="middle" textLength="20.80" lengthAdjust="spacingAndGlyphs">LS01</text>
<text x="26.18" y="367.20" font-size="8.8" text-anchor="middle" transform="rotate(-90 26.18 367.20)" textLength="72.50" lengthAdjust="spacingAndGlyphs">Clones frequency (%)</text>
<text x="34.90" y="412.50" font-size="6.9" textLength="36.40" lengthAdjust="spacingAndGlyphs">Presentation</text>
<text x="73.30" y="412.50" font-size="6.9" textLength="22.90" lengthAdjust="spacingAndGlyphs">Relapse</text>
<rect x="141.60" y="372.76" width="15.8" height="27.56" fill="#ff0000"/>
<rect x="141.60" y="354.60" width="15.8" height="18.17" fill="#22c322"/>
<rect x="141.60" y="350.85" width="15.8" height="3.78" fill="#b21ee0"/>
<rect x="141.60" y="349.91" width="15.8" height="0.96" fill="#f080c0"/>
<rect x="141.60" y="348.03" width="15.8" height="1.90" fill="#ff8a20"/>
<rect x="141.60" y="347.09" width="15.8" height="0.96" fill="#f6d8f0"/>
<rect x="141.60" y="345.21" width="15.8" height="1.90" fill="#4a0a6a"/>
<rect x="141.60" y="343.96" width="15.8" height="1.27" fill="#a00828"/>
<rect x="141.60" y="342.08" width="15.8" height="1.90" fill="#3a8a1a"/>
<rect x="141.60" y="339.89" width="15.8" height="2.21" fill="#8a14c8"/>
<rect x="141.60" y="337.70" width="15.8" height="2.21" fill="#ff8a1e"/>
<path d="M137.00,332.20 V400.30 H187.50" fill="none" stroke="#231f20" stroke-width="1.4"/>
<line x1="134.80" y1="400.30" x2="137.00" y2="400.30" stroke="#231f20" stroke-width="1"/>
<text x="132.00" y="402.80" font-size="7.0" text-anchor="end" textLength="3.45" lengthAdjust="spacingAndGlyphs">0</text>
<line x1="134.80" y1="384.65" x2="137.00" y2="384.65" stroke="#231f20" stroke-width="1"/>
<text x="132.00" y="387.15" font-size="7.0" text-anchor="end" textLength="6.90" lengthAdjust="spacingAndGlyphs">25</text>
<line x1="134.80" y1="369.00" x2="137.00" y2="369.00" stroke="#231f20" stroke-width="1"/>
<text x="132.00" y="371.50" font-size="7.0" text-anchor="end" textLength="6.90" lengthAdjust="spacingAndGlyphs">50</text>
<line x1="134.80" y1="353.35" x2="137.00" y2="353.35" stroke="#231f20" stroke-width="1"/>
<text x="132.00" y="355.85" font-size="7.0" text-anchor="end" textLength="6.90" lengthAdjust="spacingAndGlyphs">75</text>
<line x1="134.80" y1="337.70" x2="137.00" y2="337.70" stroke="#231f20" stroke-width="1"/>
<text x="132.00" y="340.20" font-size="7.0" text-anchor="end" textLength="10.35" lengthAdjust="spacingAndGlyphs">100</text>
<line x1="149.70" y1="400.30" x2="149.70" y2="402.50" stroke="#231f20" stroke-width="1"/>
<line x1="175.60" y1="400.30" x2="175.60" y2="402.50" stroke="#231f20" stroke-width="1"/>
<text x="162.00" y="326.60" font-size="10.5" text-anchor="middle" textLength="20.80" lengthAdjust="spacingAndGlyphs">LS02</text>
<text x="117.18" y="367.50" font-size="8.8" text-anchor="middle" transform="rotate(-90 117.18 367.50)" textLength="72.50" lengthAdjust="spacingAndGlyphs">Clones frequency (%)</text>
<text x="123.50" y="412.50" font-size="6.9" textLength="36.40" lengthAdjust="spacingAndGlyphs">Presentation</text>
<text x="163.10" y="412.50" font-size="6.9" textLength="22.90" lengthAdjust="spacingAndGlyphs">Relapse</text>
<rect x="232.30" y="372.62" width="15.8" height="27.70" fill="#0a0af5"/>
<rect x="232.30" y="358.79" width="15.8" height="13.86" fill="#ff0000"/>
<rect x="232.30" y="351.87" width="15.8" height="6.94" fill="#22c322"/>
<rect x="232.30" y="344.95" width="15.8" height="6.94" fill="#b01ee6"/>
<rect x="232.30" y="337.40" width="15.8" height="7.57" fill="#ff8a12"/>
<path d="M227.70,331.90 V400.30 H278.20" fill="none" stroke="#231f20" stroke-width="1.4"/>
<line x1="225.50" y1="400.30" x2="227.70" y2="400.30" stroke="#231f20" stroke-width="1"/>
<text x="222.70" y="402.80" font-size="7.0" text-anchor="end" textLength="3.45" lengthAdjust="spacingAndGlyphs">0</text>
<line x1="225.50" y1="384.57" x2="227.70" y2="384.57" stroke="#231f20" stroke-width="1"/>
<text x="222.70" y="387.07" font-size="7.0" text-anchor="end" textLength="6.90" lengthAdjust="spacingAndGlyphs">25</text>
<line x1="225.50" y1="368.85" x2="227.70" y2="368.85" stroke="#231f20" stroke-width="1"/>
<text x="222.70" y="371.35" font-size="7.0" text-anchor="end" textLength="6.90" lengthAdjust="spacingAndGlyphs">50</text>
<line x1="225.50" y1="353.12" x2="227.70" y2="353.12" stroke="#231f20" stroke-width="1"/>
<text x="222.70" y="355.62" font-size="7.0" text-anchor="end" textLength="6.90" lengthAdjust="spacingAndGlyphs">75</text>
<line x1="225.50" y1="337.40" x2="227.70" y2="337.40" stroke="#231f20" stroke-width="1"/>
<text x="222.70" y="339.90" font-size="7.0" text-anchor="end" textLength="10.35" lengthAdjust="spacingAndGlyphs">100</text>
<line x1="240.40" y1="400.30" x2="240.40" y2="402.50" stroke="#231f20" stroke-width="1"/>
<line x1="266.30" y1="400.30" x2="266.30" y2="402.50" stroke="#231f20" stroke-width="1"/>
<text x="252.70" y="326.60" font-size="10.5" text-anchor="middle" textLength="20.80" lengthAdjust="spacingAndGlyphs">LS04</text>
<text x="207.98" y="367.35" font-size="8.8" text-anchor="middle" transform="rotate(-90 207.98 367.35)" textLength="72.50" lengthAdjust="spacingAndGlyphs">Clones frequency (%)</text>
<text x="214.20" y="412.50" font-size="6.9" textLength="36.40" lengthAdjust="spacingAndGlyphs">Presentation</text>
<text x="253.80" y="412.50" font-size="6.9" textLength="22.90" lengthAdjust="spacingAndGlyphs">Relapse</text>
<rect x="381.90" y="354.12" width="15.8" height="45.70" fill="#ff0000"/>
<rect x="381.90" y="347.43" width="15.8" height="6.72" fill="#22c322"/>
<rect x="381.90" y="342.55" width="15.8" height="4.89" fill="#ff8a12"/>
<rect x="381.90" y="338.90" width="15.8" height="3.67" fill="#b01ee6"/>
<rect x="406.50" y="351.08" width="15.8" height="48.74" fill="#ff0000"/>
<rect x="406.50" y="343.16" width="15.8" height="7.94" fill="#ff8a12"/>
<rect x="406.50" y="338.90" width="15.8" height="4.28" fill="#1414d8"/>
<path d="M376.40,333.40 V399.80 H426.90" fill="none" stroke="#231f20" stroke-width="1.4"/>
<line x1="374.20" y1="399.80" x2="376.40" y2="399.80" stroke="#231f20" stroke-width="1"/>
<text x="371.40" y="402.30" font-size="7.0" text-anchor="end" textLength="3.45" lengthAdjust="spacingAndGlyphs">0</text>
<line x1="374.20" y1="384.57" x2="376.40" y2="384.57" stroke="#231f20" stroke-width="1"/>
<text x="371.40" y="387.07" font-size="7.0" text-anchor="end" textLength="6.90" lengthAdjust="spacingAndGlyphs">25</text>
<line x1="374.20" y1="369.35" x2="376.40" y2="369.35" stroke="#231f20" stroke-width="1"/>
<text x="371.40" y="371.85" font-size="7.0" text-anchor="end" textLength="6.90" lengthAdjust="spacingAndGlyphs">50</text>
<line x1="374.20" y1="354.12" x2="376.40" y2="354.12" stroke="#231f20" stroke-width="1"/>
<text x="371.40" y="356.62" font-size="7.0" text-anchor="end" textLength="6.90" lengthAdjust="spacingAndGlyphs">75</text>
<line x1="374.20" y1="338.90" x2="376.40" y2="338.90" stroke="#231f20" stroke-width="1"/>
<text x="371.40" y="341.40" font-size="7.0" text-anchor="end" textLength="10.35" lengthAdjust="spacingAndGlyphs">100</text>
<line x1="389.10" y1="399.80" x2="389.10" y2="402.00" stroke="#231f20" stroke-width="1"/>
<line x1="415.00" y1="399.80" x2="415.00" y2="402.00" stroke="#231f20" stroke-width="1"/>
<text x="401.40" y="326.60" font-size="10.5" text-anchor="middle" textLength="20.80" lengthAdjust="spacingAndGlyphs">LS05</text>
<text x="357.08" y="367.85" font-size="8.8" text-anchor="middle" transform="rotate(-90 357.08 367.85)" textLength="72.50" lengthAdjust="spacingAndGlyphs">Clones frequency (%)</text>
<text x="362.90" y="412.00" font-size="6.9" textLength="36.40" lengthAdjust="spacingAndGlyphs">Presentation</text>
<text x="402.50" y="412.00" font-size="6.9" textLength="22.90" lengthAdjust="spacingAndGlyphs">Relapse</text>
<path d="M397.2,354.2 H399.4 V399.4" fill="none" stroke="#231f20" stroke-width="0.9"/>
<line x1="399.40" y1="376.70" x2="403.10" y2="376.70" stroke="#231f20" stroke-width="0.9"/>
<polygon points="405.80,376.70 402.60,378.30 402.60,375.10" fill="#231f20"/>
<path d="M397.2,342.6 H399.0 V347.3 H397.2" fill="none" stroke="#231f20" stroke-width="0.8"/>
<line x1="399.00" y1="345.00" x2="403.10" y2="345.00" stroke="#231f20" stroke-width="0.9"/>
<polygon points="405.80,345.00 402.60,346.60 402.60,343.40" fill="#231f20"/>
<rect x="468.10" y="338.90" width="15.8" height="60.92" fill="#ff0000"/>
<rect x="493.30" y="338.90" width="15.8" height="60.92" fill="#ff0000"/>
<path d="M462.60,333.40 V399.80 H513.10" fill="none" stroke="#231f20" stroke-width="1.4"/>
<line x1="460.40" y1="399.80" x2="462.60" y2="399.80" stroke="#231f20" stroke-width="1"/>
<text x="457.60" y="402.30" font-size="7.0" text-anchor="end" textLength="3.45" lengthAdjust="spacingAndGlyphs">0</text>
<line x1="460.40" y1="384.57" x2="462.60" y2="384.57" stroke="#231f20" stroke-width="1"/>
<text x="457.60" y="387.07" font-size="7.0" text-anchor="end" textLength="6.90" lengthAdjust="spacingAndGlyphs">25</text>
<line x1="460.40" y1="369.35" x2="462.60" y2="369.35" stroke="#231f20" stroke-width="1"/>
<text x="457.60" y="371.85" font-size="7.0" text-anchor="end" textLength="6.90" lengthAdjust="spacingAndGlyphs">50</text>
<line x1="460.40" y1="354.12" x2="462.60" y2="354.12" stroke="#231f20" stroke-width="1"/>
<text x="457.60" y="356.62" font-size="7.0" text-anchor="end" textLength="6.90" lengthAdjust="spacingAndGlyphs">75</text>
<line x1="460.40" y1="338.90" x2="462.60" y2="338.90" stroke="#231f20" stroke-width="1"/>
<text x="457.60" y="341.40" font-size="7.0" text-anchor="end" textLength="10.35" lengthAdjust="spacingAndGlyphs">100</text>
<line x1="475.30" y1="399.80" x2="475.30" y2="402.00" stroke="#231f20" stroke-width="1"/>
<line x1="501.20" y1="399.80" x2="501.20" y2="402.00" stroke="#231f20" stroke-width="1"/>
<text x="487.90" y="326.80" font-size="10.5" text-anchor="middle" textLength="20.80" lengthAdjust="spacingAndGlyphs">LS09</text>
<text x="444.18" y="367.85" font-size="8.8" text-anchor="middle" transform="rotate(-90 444.18 367.85)" textLength="72.50" lengthAdjust="spacingAndGlyphs">Clones frequency (%)</text>
<text x="449.10" y="412.00" font-size="6.9" textLength="36.40" lengthAdjust="spacingAndGlyphs">Presentation</text>
<text x="488.70" y="412.00" font-size="6.9" textLength="22.90" lengthAdjust="spacingAndGlyphs">Relapse</text>
<path d="M483.4,338.9 H485.1 V399.4" fill="none" stroke="#231f20" stroke-width="0.9"/>
<line x1="485.10" y1="368.60" x2="489.20" y2="368.60" stroke="#231f20" stroke-width="0.9"/>
<polygon points="491.90,368.60 488.70,370.20 488.70,367.00" fill="#231f20"/>
<rect x="51.10" y="465.87" width="15.8" height="52.35" fill="#ff0000"/>
<rect x="51.10" y="460.26" width="15.8" height="5.63" fill="#22c322"/>
<rect x="51.10" y="455.90" width="15.8" height="4.38" fill="#9a1ed8"/>
<rect x="76.60" y="465.87" width="15.8" height="52.35" fill="#ff8a12"/>
<rect x="76.60" y="461.20" width="15.8" height="4.69" fill="#1010d8"/>
<rect x="76.60" y="455.90" width="15.8" height="2.51" fill="#ece0a0"/>
<path d="M46.50,450.40 V518.20 H97.00" fill="none" stroke="#231f20" stroke-width="1.4"/>
<line x1="44.30" y1="518.20" x2="46.50" y2="518.20" stroke="#231f20" stroke-width="1"/>
<text x="41.50" y="520.70" font-size="7.0" text-anchor="end" textLength="3.45" lengthAdjust="spacingAndGlyphs">0</text>
<line x1="44.30" y1="502.62" x2="46.50" y2="502.62" stroke="#231f20" stroke-width="1"/>
<text x="41.50" y="505.12" font-size="7.0" text-anchor="end" textLength="6.90" lengthAdjust="spacingAndGlyphs">25</text>
<line x1="44.30" y1="487.05" x2="46.50" y2="487.05" stroke="#231f20" stroke-width="1"/>
<text x="41.50" y="489.55" font-size="7.0" text-anchor="end" textLength="6.90" lengthAdjust="spacingAndGlyphs">50</text>
<line x1="44.30" y1="471.48" x2="46.50" y2="471.48" stroke="#231f20" stroke-width="1"/>
<text x="41.50" y="473.98" font-size="7.0" text-anchor="end" textLength="6.90" lengthAdjust="spacingAndGlyphs">75</text>
<line x1="44.30" y1="455.90" x2="46.50" y2="455.90" stroke="#231f20" stroke-width="1"/>
<text x="41.50" y="458.40" font-size="7.0" text-anchor="end" textLength="10.35" lengthAdjust="spacingAndGlyphs">100</text>
<line x1="59.20" y1="518.20" x2="59.20" y2="520.40" stroke="#231f20" stroke-width="1"/>
<line x1="85.10" y1="518.20" x2="85.10" y2="520.40" stroke="#231f20" stroke-width="1"/>
<text x="71.50" y="445.00" font-size="10.5" text-anchor="middle" textLength="20.80" lengthAdjust="spacingAndGlyphs">LS03</text>
<text x="27.28" y="485.55" font-size="8.8" text-anchor="middle" transform="rotate(-90 27.28 485.55)" textLength="72.50" lengthAdjust="spacingAndGlyphs">Clones frequency (%)</text>
<text x="33.00" y="530.40" font-size="6.9" textLength="36.40" lengthAdjust="spacingAndGlyphs">Presentation</text>
<text x="72.60" y="530.40" font-size="6.9" textLength="22.90" lengthAdjust="spacingAndGlyphs">Relapse</text>
<rect x="118.50" y="506.36" width="15.8" height="11.86" fill="#ff0000"/>
<rect x="118.50" y="493.90" width="15.8" height="12.48" fill="#22c322"/>
<rect x="118.50" y="481.44" width="15.8" height="12.48" fill="#b01ee6"/>
<rect x="118.50" y="475.84" width="15.8" height="5.63" fill="#ff8a12"/>
<rect x="118.50" y="468.36" width="15.8" height="7.50" fill="#0a0af5"/>
<rect x="118.50" y="463.38" width="15.8" height="5.00" fill="#f6cfe8"/>
<rect x="118.50" y="455.90" width="15.8" height="7.50" fill="#d8d8d8"/>
<rect x="144.00" y="455.90" width="15.8" height="62.32" fill="#a00000"/>
<path d="M113.90,450.40 V518.20 H164.40" fill="none" stroke="#231f20" stroke-width="1.4"/>
<line x1="111.70" y1="518.20" x2="113.90" y2="518.20" stroke="#231f20" stroke-width="1"/>
<text x="108.90" y="520.70" font-size="7.0" text-anchor="end" textLength="3.45" lengthAdjust="spacingAndGlyphs">0</text>
<line x1="111.70" y1="502.62" x2="113.90" y2="502.62" stroke="#231f20" stroke-width="1"/>
<text x="108.90" y="505.12" font-size="7.0" text-anchor="end" textLength="6.90" lengthAdjust="spacingAndGlyphs">25</text>
<line x1="111.70" y1="487.05" x2="113.90" y2="487.05" stroke="#231f20" stroke-width="1"/>
<text x="108.90" y="489.55" font-size="7.0" text-anchor="end" textLength="6.90" lengthAdjust="spacingAndGlyphs">50</text>
<line x1="111.70" y1="471.48" x2="113.90" y2="471.48" stroke="#231f20" stroke-width="1"/>
<text x="108.90" y="473.98" font-size="7.0" text-anchor="end" textLength="6.90" lengthAdjust="spacingAndGlyphs">75</text>
<line x1="111.70" y1="455.90" x2="113.90" y2="455.90" stroke="#231f20" stroke-width="1"/>
<text x="108.90" y="458.40" font-size="7.0" text-anchor="end" textLength="10.35" lengthAdjust="spacingAndGlyphs">100</text>
<line x1="126.60" y1="518.20" x2="126.60" y2="520.40" stroke="#231f20" stroke-width="1"/>
<line x1="152.50" y1="518.20" x2="152.50" y2="520.40" stroke="#231f20" stroke-width="1"/>
<text x="138.90" y="445.00" font-size="10.5" text-anchor="middle" textLength="20.80" lengthAdjust="spacingAndGlyphs">LS06</text>
<text x="100.40" y="530.40" font-size="6.9" textLength="36.40" lengthAdjust="spacingAndGlyphs">Presentation</text>
<text x="140.00" y="530.40" font-size="6.9" textLength="22.90" lengthAdjust="spacingAndGlyphs">Relapse</text>
<rect x="185.30" y="486.43" width="15.8" height="31.79" fill="#ff0000"/>
<rect x="185.30" y="478.33" width="15.8" height="8.12" fill="#22c322"/>
<rect x="185.30" y="470.23" width="15.8" height="8.12" fill="#b01ee6"/>
<rect x="185.30" y="466.49" width="15.8" height="3.76" fill="#ff8a12"/>
<rect x="185.30" y="464.31" width="15.8" height="2.20" fill="#0a0af5"/>
<rect x="185.30" y="460.57" width="15.8" height="3.76" fill="#f4e4ee"/>
<rect x="185.30" y="458.08" width="15.8" height="2.51" fill="#8a0000"/>
<rect x="185.30" y="455.90" width="15.8" height="2.20" fill="#f8b888"/>
<rect x="210.80" y="487.05" width="15.8" height="31.17" fill="#d4a6a6"/>
<rect x="210.80" y="466.49" width="15.8" height="20.58" fill="#186b42"/>
<rect x="210.80" y="455.90" width="15.8" height="10.61" fill="#f8be86"/>
<path d="M180.70,450.40 V518.20 H231.20" fill="none" stroke="#231f20" stroke-width="1.4"/>
<line x1="178.50" y1="518.20" x2="180.70" y2="518.20" stroke="#231f20" stroke-width="1"/>
<text x="175.70" y="520.70" font-size="7.0" text-anchor="end" textLength="3.45" lengthAdjust="spacingAndGlyphs">0</text>
<line x1="178.50" y1="502.62" x2="180.70" y2="502.62" stroke="#231f20" stroke-width="1"/>
<text x="175.70" y="505.12" font-size="7.0" text-anchor="end" textLength="6.90" lengthAdjust="spacingAndGlyphs">25</text>
<line x1="178.50" y1="487.05" x2="180.70" y2="487.05" stroke="#231f20" stroke-width="1"/>
<text x="175.70" y="489.55" font-size="7.0" text-anchor="end" textLength="6.90" lengthAdjust="spacingAndGlyphs">50</text>
<line x1="178.50" y1="471.48" x2="180.70" y2="471.48" stroke="#231f20" stroke-width="1"/>
<text x="175.70" y="473.98" font-size="7.0" text-anchor="end" textLength="6.90" lengthAdjust="spacingAndGlyphs">75</text>
<line x1="178.50" y1="455.90" x2="180.70" y2="455.90" stroke="#231f20" stroke-width="1"/>
<text x="175.70" y="458.40" font-size="7.0" text-anchor="end" textLength="10.35" lengthAdjust="spacingAndGlyphs">100</text>
<line x1="193.40" y1="518.20" x2="193.40" y2="520.40" stroke="#231f20" stroke-width="1"/>
<line x1="219.30" y1="518.20" x2="219.30" y2="520.40" stroke="#231f20" stroke-width="1"/>
<text x="205.70" y="445.00" font-size="10.5" text-anchor="middle" textLength="20.80" lengthAdjust="spacingAndGlyphs">LS07</text>
<text x="167.20" y="530.40" font-size="6.9" textLength="36.40" lengthAdjust="spacingAndGlyphs">Presentation</text>
<text x="206.80" y="530.40" font-size="6.9" textLength="22.90" lengthAdjust="spacingAndGlyphs">Relapse</text>
<rect x="251.80" y="494.53" width="15.8" height="23.69" fill="#ff0000"/>
<rect x="251.80" y="484.56" width="15.8" height="9.99" fill="#22c322"/>
<rect x="251.80" y="475.21" width="15.8" height="9.37" fill="#b01ee6"/>
<rect x="251.80" y="470.85" width="15.8" height="4.38" fill="#ff8a12"/>
<rect x="251.80" y="465.25" width="15.8" height="5.63" fill="#0a0af5"/>
<rect x="251.80" y="462.13" width="15.8" height="3.14" fill="#f6cfe8"/>
<rect x="251.80" y="455.90" width="15.8" height="6.25" fill="#d8d8d8"/>
<rect x="277.30" y="492.03" width="15.8" height="26.19" fill="#a00000"/>
<rect x="277.30" y="473.97" width="15.8" height="18.09" fill="#f8be86"/>
<rect x="277.30" y="464.62" width="15.8" height="9.37" fill="#d4a6a6"/>
<rect x="277.30" y="455.90" width="15.8" height="8.74" fill="#186b42"/>
<path d="M247.20,450.40 V518.20 H297.70" fill="none" stroke="#231f20" stroke-width="1.4"/>
<line x1="245.00" y1="518.20" x2="247.20" y2="518.20" stroke="#231f20" stroke-width="1"/>
<text x="242.20" y="520.70" font-size="7.0" text-anchor="end" textLength="3.45" lengthAdjust="spacingAndGlyphs">0</text>
<line x1="245.00" y1="502.62" x2="247.20" y2="502.62" stroke="#231f20" stroke-width="1"/>
<text x="242.20" y="505.12" font-size="7.0" text-anchor="end" textLength="6.90" lengthAdjust="spacingAndGlyphs">25</text>
<line x1="245.00" y1="487.05" x2="247.20" y2="487.05" stroke="#231f20" stroke-width="1"/>
<text x="242.20" y="489.55" font-size="7.0" text-anchor="end" textLength="6.90" lengthAdjust="spacingAndGlyphs">50</text>
<line x1="245.00" y1="471.48" x2="247.20" y2="471.48" stroke="#231f20" stroke-width="1"/>
<text x="242.20" y="473.98" font-size="7.0" text-anchor="end" textLength="6.90" lengthAdjust="spacingAndGlyphs">75</text>
<line x1="245.00" y1="455.90" x2="247.20" y2="455.90" stroke="#231f20" stroke-width="1"/>
<text x="242.20" y="458.40" font-size="7.0" text-anchor="end" textLength="10.35" lengthAdjust="spacingAndGlyphs">100</text>
<line x1="259.90" y1="518.20" x2="259.90" y2="520.40" stroke="#231f20" stroke-width="1"/>
<line x1="285.80" y1="518.20" x2="285.80" y2="520.40" stroke="#231f20" stroke-width="1"/>
<text x="272.20" y="445.00" font-size="10.5" text-anchor="middle" textLength="20.80" lengthAdjust="spacingAndGlyphs">LS08</text>
<text x="233.70" y="530.40" font-size="6.9" textLength="36.40" lengthAdjust="spacingAndGlyphs">Presentation</text>
<text x="273.30" y="530.40" font-size="6.9" textLength="22.90" lengthAdjust="spacingAndGlyphs">Relapse</text>
<rect x="318.10" y="512.59" width="15.8" height="5.63" fill="#ff0000"/>
<rect x="318.10" y="502.62" width="15.8" height="9.99" fill="#22c322"/>
<rect x="318.10" y="496.40" width="15.8" height="6.25" fill="#b01ee6"/>
<rect x="318.10" y="490.79" width="15.8" height="5.63" fill="#ff8a12"/>
<rect x="318.10" y="484.56" width="15.8" height="6.25" fill="#0a0af5"/>
<rect x="318.10" y="479.57" width="15.8" height="5.00" fill="#f08080"/>
<rect x="318.10" y="473.34" width="15.8" height="6.25" fill="#10f040"/>
<rect x="318.10" y="467.11" width="15.8" height="6.25" fill="#b050d8"/>
<rect x="318.10" y="462.13" width="15.8" height="5.00" fill="#ffc080"/>
<rect x="318.10" y="455.90" width="15.8" height="6.25" fill="#d4a6a6"/>
<rect x="343.60" y="461.51" width="15.8" height="56.71" fill="#005a00"/>
<rect x="343.60" y="455.90" width="15.8" height="5.63" fill="#f8be86"/>
<path d="M313.50,450.40 V518.20 H364.00" fill="none" stroke="#231f20" stroke-width="1.4"/>
<line x1="311.30" y1="518.20" x2="313.50" y2="518.20" stroke="#231f20" stroke-width="1"/>
<text x="308.50" y="520.70" font-size="7.0" text-anchor="end" textLength="3.45" lengthAdjust="spacingAndGlyphs">0</text>
<line x1="311.30" y1="502.62" x2="313.50" y2="502.62" stroke="#231f20" stroke-width="1"/>
<text x="308.50" y="505.12" font-size="7.0" text-anchor="end" textLength="6.90" lengthAdjust="spacingAndGlyphs">25</text>
<line x1="311.30" y1="487.05" x2="313.50" y2="487.05" stroke="#231f20" stroke-width="1"/>
<text x="308.50" y="489.55" font-size="7.0" text-anchor="end" textLength="6.90" lengthAdjust="spacingAndGlyphs">50</text>
<line x1="311.30" y1="471.48" x2="313.50" y2="471.48" stroke="#231f20" stroke-width="1"/>
<text x="308.50" y="473.98" font-size="7.0" text-anchor="end" textLength="6.90" lengthAdjust="spacingAndGlyphs">75</text>
<line x1="311.30" y1="455.90" x2="313.50" y2="455.90" stroke="#231f20" stroke-width="1"/>
<text x="308.50" y="458.40" font-size="7.0" text-anchor="end" textLength="10.35" lengthAdjust="spacingAndGlyphs">100</text>
<line x1="326.20" y1="518.20" x2="326.20" y2="520.40" stroke="#231f20" stroke-width="1"/>
<line x1="352.10" y1="518.20" x2="352.10" y2="520.40" stroke="#231f20" stroke-width="1"/>
<text x="338.50" y="445.00" font-size="10.5" text-anchor="middle" textLength="20.80" lengthAdjust="spacingAndGlyphs">LS10</text>
<text x="300.00" y="530.40" font-size="6.9" textLength="36.40" lengthAdjust="spacingAndGlyphs">Presentation</text>
<text x="339.60" y="530.40" font-size="6.9" textLength="22.90" lengthAdjust="spacingAndGlyphs">Relapse</text>
<rect x="401.70" y="509.44" width="15.8" height="8.78" fill="#ff0000"/>
<rect x="401.70" y="502.95" width="15.8" height="6.51" fill="#22c322"/>
<rect x="401.70" y="498.73" width="15.8" height="4.24" fill="#b01ee6"/>
<rect x="401.70" y="494.19" width="15.8" height="4.56" fill="#ff8a12"/>
<rect x="401.70" y="490.94" width="15.8" height="3.27" fill="#0a0af5"/>
<rect x="401.70" y="487.05" width="15.8" height="3.91" fill="#f6eef6"/>
<rect x="401.70" y="484.58" width="15.8" height="2.49" fill="#f4dbe8"/>
<rect x="401.70" y="481.86" width="15.8" height="2.75" fill="#900000"/>
<rect x="401.70" y="479.91" width="15.8" height="1.97" fill="#f6e6f0"/>
<rect x="401.70" y="477.83" width="15.8" height="2.10" fill="#ffc8a8"/>
<rect x="401.70" y="474.59" width="15.8" height="3.27" fill="#f2e8f2"/>
<rect x="401.70" y="471.34" width="15.8" height="3.27" fill="#005000"/>
<rect x="401.70" y="469.27" width="15.8" height="2.10" fill="#f0e6a0"/>
<rect x="401.70" y="466.02" width="15.8" height="3.27" fill="#88e0a0"/>
<rect x="401.70" y="464.46" width="15.8" height="1.58" fill="#a8c8f0"/>
<rect x="401.70" y="462.39" width="15.8" height="2.10" fill="#606030"/>
<rect x="401.70" y="460.76" width="15.8" height="1.64" fill="#ffd800"/>
<rect x="401.70" y="458.36" width="15.8" height="2.42" fill="#8b7530"/>
<rect x="401.70" y="457.06" width="15.8" height="1.32" fill="#f0e0a0"/>
<rect x="401.70" y="454.40" width="15.8" height="2.68" fill="#500080"/>
<rect x="401.70" y="452.65" width="15.8" height="1.77" fill="#807020"/>
<rect x="428.00" y="496.78" width="15.8" height="21.44" fill="#a31ef0"/>
<rect x="428.00" y="485.75" width="15.8" height="11.05" fill="#ff8a12"/>
<rect x="428.00" y="475.37" width="15.8" height="10.40" fill="#000"/>
<rect x="428.00" y="464.33" width="15.8" height="11.05" fill="#8b5a2b"/>
<rect x="428.00" y="453.30" width="15.8" height="11.05" fill="#00007f"/>
<path d="M397.20,447.80 V518.20 H454.70" fill="none" stroke="#231f20" stroke-width="1.4"/>
<line x1="395.00" y1="518.20" x2="397.20" y2="518.20" stroke="#231f20" stroke-width="1"/>
<text x="392.20" y="520.70" font-size="7.0" text-anchor="end" textLength="3.45" lengthAdjust="spacingAndGlyphs">0</text>
<line x1="395.00" y1="501.98" x2="397.20" y2="501.98" stroke="#231f20" stroke-width="1"/>
<text x="392.20" y="504.48" font-size="7.0" text-anchor="end" textLength="6.90" lengthAdjust="spacingAndGlyphs">25</text>
<line x1="395.00" y1="485.75" x2="397.20" y2="485.75" stroke="#231f20" stroke-width="1"/>
<text x="392.20" y="488.25" font-size="7.0" text-anchor="end" textLength="6.90" lengthAdjust="spacingAndGlyphs">50</text>
<line x1="395.00" y1="469.53" x2="397.20" y2="469.53" stroke="#231f20" stroke-width="1"/>
<text x="392.20" y="472.03" font-size="7.0" text-anchor="end" textLength="6.90" lengthAdjust="spacingAndGlyphs">75</text>
<line x1="395.00" y1="453.30" x2="397.20" y2="453.30" stroke="#231f20" stroke-width="1"/>
<text x="392.20" y="455.80" font-size="7.0" text-anchor="end" textLength="10.35" lengthAdjust="spacingAndGlyphs">100</text>
<line x1="409.70" y1="518.20" x2="409.70" y2="520.40" stroke="#231f20" stroke-width="1"/>
<line x1="435.80" y1="518.20" x2="435.80" y2="520.40" stroke="#231f20" stroke-width="1"/>
<text x="422.30" y="445.00" font-size="10.5" text-anchor="middle" textLength="29.80" lengthAdjust="spacingAndGlyphs">MPAL1</text>
<text x="378.08" y="484.25" font-size="8.8" text-anchor="middle" transform="rotate(-90 378.08 484.25)" textLength="72.50" lengthAdjust="spacingAndGlyphs">Clones frequency (%)</text>
<text x="390.20" y="530.40" font-size="6.9" textLength="28.20" lengthAdjust="spacingAndGlyphs">Lymphoid</text>
<text x="423.60" y="530.40" font-size="6.9" textLength="23.60" lengthAdjust="spacingAndGlyphs">Myeloid</text>
<rect x="469.50" y="511.71" width="15.8" height="6.51" fill="#ff0000"/>
<rect x="469.50" y="505.22" width="15.8" height="6.51" fill="#22c322"/>
<rect x="469.50" y="499.05" width="15.8" height="6.19" fill="#b01ee6"/>
<rect x="469.50" y="495.81" width="15.8" height="3.27" fill="#ff8a12"/>
<rect x="469.50" y="492.56" width="15.8" height="3.27" fill="#0a0af5"/>
<rect x="469.50" y="485.88" width="15.8" height="6.70" fill="#f6eef6"/>
<rect x="469.50" y="482.83" width="15.8" height="3.07" fill="#900000"/>
<rect x="469.50" y="479.26" width="15.8" height="3.59" fill="#ffc4a0"/>
<rect x="469.50" y="477.96" width="15.8" height="1.32" fill="#f2e8f2"/>
<rect x="469.50" y="476.66" width="15.8" height="1.32" fill="#203a20"/>
<rect x="469.50" y="474.72" width="15.8" height="1.97" fill="#40c040"/>
<rect x="469.50" y="473.42" width="15.8" height="1.32" fill="#90e890"/>
<rect x="469.50" y="470.82" width="15.8" height="2.62" fill="#80c0e0"/>
<rect x="469.50" y="468.10" width="15.8" height="2.75" fill="#d8d8e8"/>
<rect x="469.50" y="466.80" width="15.8" height="1.32" fill="#505020"/>
<rect x="469.50" y="464.85" width="15.8" height="1.97" fill="#ffd800"/>
<rect x="469.50" y="462.91" width="15.8" height="1.97" fill="#a07020"/>
<rect x="469.50" y="460.96" width="15.8" height="1.97" fill="#f0e0a0"/>
<rect x="469.50" y="458.95" width="15.8" height="2.03" fill="#400080"/>
<rect x="469.50" y="457.32" width="15.8" height="1.64" fill="#8b4513"/>
<rect x="469.50" y="455.57" width="15.8" height="1.77" fill="#6040a0"/>
<rect x="469.50" y="454.27" width="15.8" height="1.32" fill="#ff8a12"/>
<rect x="495.40" y="479.26" width="15.8" height="38.96" fill="#000"/>
<rect x="495.40" y="453.30" width="15.8" height="25.98" fill="#9a6020"/>
<path d="M464.30,447.80 V518.20 H516.00" fill="none" stroke="#231f20" stroke-width="1.4"/>
<line x1="462.10" y1="518.20" x2="464.30" y2="518.20" stroke="#231f20" stroke-width="1"/>
<text x="459.30" y="520.70" font-size="7.0" text-anchor="end" textLength="3.45" lengthAdjust="spacingAndGlyphs">0</text>
<line x1="462.10" y1="501.98" x2="464.30" y2="501.98" stroke="#231f20" stroke-width="1"/>
<text x="459.30" y="504.48" font-size="7.0" text-anchor="end" textLength="6.90" lengthAdjust="spacingAndGlyphs">25</text>
<line x1="462.10" y1="485.75" x2="464.30" y2="485.75" stroke="#231f20" stroke-width="1"/>
<text x="459.30" y="488.25" font-size="7.0" text-anchor="end" textLength="6.90" lengthAdjust="spacingAndGlyphs">50</text>
<line x1="462.10" y1="469.53" x2="464.30" y2="469.53" stroke="#231f20" stroke-width="1"/>
<text x="459.30" y="472.03" font-size="7.0" text-anchor="end" textLength="6.90" lengthAdjust="spacingAndGlyphs">75</text>
<line x1="462.10" y1="453.30" x2="464.30" y2="453.30" stroke="#231f20" stroke-width="1"/>
<text x="459.30" y="455.80" font-size="7.0" text-anchor="end" textLength="10.35" lengthAdjust="spacingAndGlyphs">100</text>
<line x1="477.50" y1="518.20" x2="477.50" y2="520.40" stroke="#231f20" stroke-width="1"/>
<line x1="503.30" y1="518.20" x2="503.30" y2="520.40" stroke="#231f20" stroke-width="1"/>
<text x="490.00" y="445.00" font-size="10.5" text-anchor="middle" textLength="29.80" lengthAdjust="spacingAndGlyphs">MPAL2</text>
<text x="458.60" y="530.40" font-size="6.9" textLength="28.20" lengthAdjust="spacingAndGlyphs">Lymphoid</text>
<text x="491.70" y="530.40" font-size="6.9" textLength="23.60" lengthAdjust="spacingAndGlyphs">Myeloid</text>
<line x1="399.40" y1="532.00" x2="444.10" y2="532.00" stroke="#111" stroke-width="1.3"/>
<line x1="467.50" y1="532.00" x2="514.60" y2="532.00" stroke="#111" stroke-width="1.3"/>
<text x="422.70" y="540.00" font-size="6.9" text-anchor="middle" textLength="34.20" lengthAdjust="spacingAndGlyphs">Cell fraction</text>
<text x="490.70" y="540.00" font-size="6.9" text-anchor="middle" textLength="35.50" lengthAdjust="spacingAndGlyphs">Cell fraction</text>
</svg></body></html>
